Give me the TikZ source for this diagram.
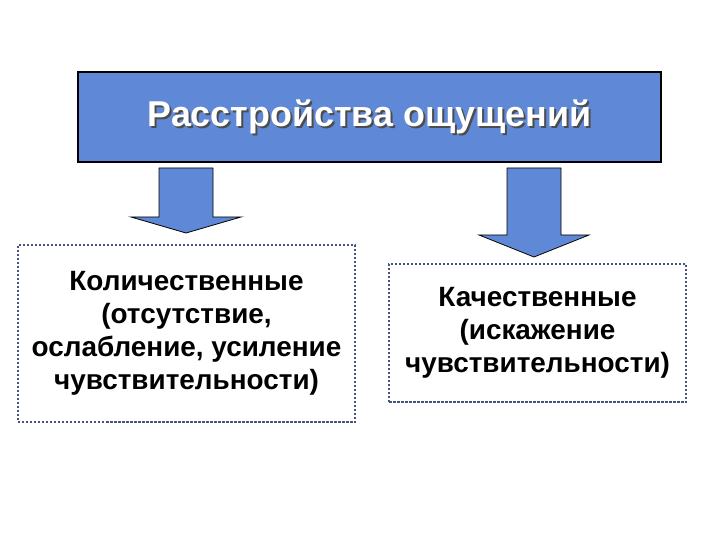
\documentclass[tikz,border=0pt]{standalone}
\usepackage{fontspec}
\setmainfont{Liberation Sans}
\usetikzlibrary{positioning}
\definecolor{headblue}{HTML}{5F88D6}
\definecolor{dotgray}{HTML}{44547E}
\tikzset{
  head/.style={draw=black, line width=1.2bp, fill=headblue, minimum width=583bp, minimum height=90bp},
  headtxt/.style={font=\bfseries\fontsize{36}{40}\selectfont},
  kind/.style={draw=dotgray, line width=2.5bp, dash pattern=on 2.5bp off 1.5bp, fill=white, align=center, font=\bfseries\fontsize{28}{33}\selectfont},
  blockarr/.style={draw=black, line width=0.8bp, fill=headblue},
}
\begin{document}
\begin{tikzpicture}[x=1bp,y=-1bp]
\useasboundingbox (0,0) rectangle (720,540);
\node[head] (top) at (369.5,117) {};
\node[headtxt, text=black!70] (shade) at ([shift={(2,2)}]top.center) {Расстройства ощущений};
\node[headtxt, text=white] (title) at (top.center) {Расстройства ощущений};
\foreach \cx/\hy/\by in {186/217/233,534/235/257}{\draw[blockarr] (\cx-27,168) -- (\cx+27,168) -- (\cx+27,\hy) -- (\cx+55,\hy) -- (\cx,\by) -- (\cx-55,\hy) -- (\cx-27,\hy) -- cycle;}
\node[kind, minimum width=337bp, minimum height=177bp] (quant) at (186.5,333.5) {Количественные\\(отсутствие,\\ослабление, усиление\\чувствительности)};
\node[kind, minimum width=297bp, minimum height=138bp] (qual) at (537.5,333) {Качественные\\(искажение\\чувствительности)};
\end{tikzpicture}
\end{document}
